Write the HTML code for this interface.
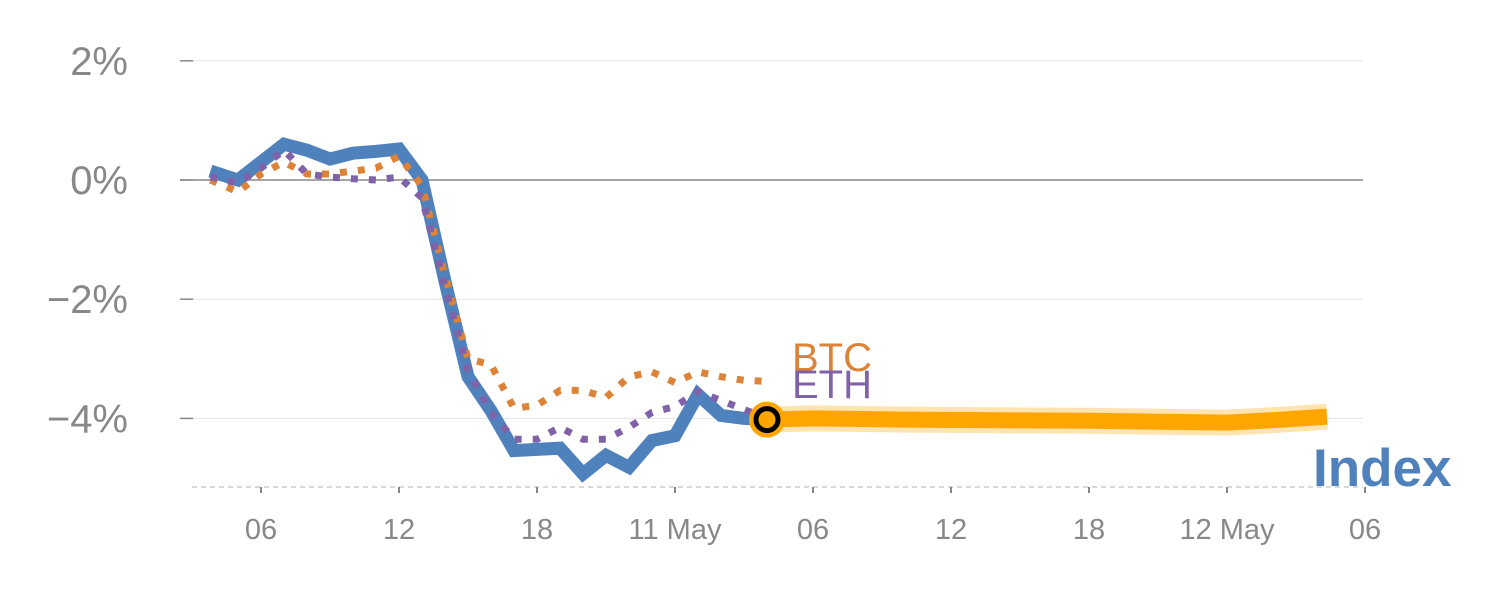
<!DOCTYPE html>
<html><head><meta charset="utf-8"><style>
html,body{margin:0;padding:0;background:#fff;}
svg{display:block;font-family:"Liberation Sans",sans-serif;}
</style></head><body>
<svg id="chart" width="1500" height="600" viewBox="0 0 1500 600" xmlns="http://www.w3.org/2000/svg">
<g id="grid"></g>
<g id="yaxis"></g>
<g id="xaxis"></g>
<g id="series"></g>
<text x="792" y="371" font-size="40" fill="#dd8338">BTC</text>
<text x="792" y="398" font-size="40" fill="#8062a8">ETH</text>
<text x="1313" y="486" font-size="53" font-weight="bold" fill="#4f81bd">Index</text>
</svg>
<script>
const yTicks = [2, 0, -2, -4];
const yTickLabels = ["2%", "0%", "\u22122%", "\u22124%"];
const xTicks = [6, 12, 18, 24, 30, 36, 42, 48, 54];
const xTickLabels = ["06", "12", "18", "11 May", "06", "12", "18", "12 May", "06"];
const hours = [3.8,5,6,7,8,9,10,11,12,13,14,15,16,17,18,19,20,21,22,23,24,25,26,27,28];
const indexValues = [0.15,0.0,0.3,0.6,0.5,0.35,0.45,0.48,0.52,0.0,-1.7,-3.3,-3.87,-4.54,-4.52,-4.5,-4.93,-4.62,-4.82,-4.37,-4.29,-3.6,-3.95,-4.0,-4.02];
const btcValues = [0.0,-0.2,0.1,0.3,0.1,0.1,0.15,0.2,0.4,-0.1,-1.6,-3.0,-3.1,-3.83,-3.78,-3.53,-3.53,-3.65,-3.3,-3.22,-3.4,-3.22,-3.3,-3.36,-3.38];
const ethValues = [0.05,-0.05,0.2,0.5,0.1,0.05,0.02,0.0,0.05,-0.3,-1.8,-3.2,-3.9,-4.35,-4.35,-4.15,-4.35,-4.35,-4.15,-3.9,-3.8,-3.55,-3.7,-3.85,-4.0];
const forecastHours = [28,30,34,38,42,46,48,50,52.35];
const forecastValues = [-4.02,-4.0,-4.02,-4.03,-4.04,-4.06,-4.07,-4.03,-3.97];

const X = h => 261 + (h - 6) * 23;
const Y = v => 180 - v * 59.6;
const NS = "http://www.w3.org/2000/svg";
function mk(tag, attrs, parent){const e=document.createElementNS(NS,tag);for(const k in attrs)e.setAttribute(k,attrs[k]);parent.appendChild(e);return e;}
const grid=document.getElementById('grid'), ya=document.getElementById('yaxis'), xa=document.getElementById('xaxis'), se=document.getElementById('series');

yTicks.forEach((v,i)=>{
  const g=mk('line',{x1:180,x2:1363,y1:Y(v),y2:Y(v),stroke:v===0?'#888':'#e3e3e3','stroke-width':v===0?1.5:1},grid);
  
  
  const t=mk('line',{x1:180,x2:193,y1:Y(v),y2:Y(v),stroke:'#888','stroke-width':1.5},ya);
  
  
  const l=mk('text',{x:128,y:Y(v)+14,'text-anchor':'end','font-size':40,fill:'#888'},ya);
  l.textContent=yTickLabels[i];
  
  
});
const base=mk('line',{x1:192,x2:1363,y1:487,y2:487,stroke:'#ccc','stroke-width':1.5,'stroke-dasharray':'5,4'},xa);


xTicks.forEach((h,i)=>{
  const t=mk('line',{x1:X(h),x2:X(h),y1:487,y2:493,stroke:'#888','stroke-width':2},xa);
  
  
  const l=mk('text',{x:X(h),y:539,'text-anchor':'middle','font-size':29,fill:'#888'},xa);
  l.textContent=xTickLabels[i];
  
  
});
const pts=(hs,vs)=>hs.map((h,i)=>X(h).toFixed(1)+','+Y(vs[i]).toFixed(1)).join(' ');
const fp=pts(forecastHours,forecastValues);
const f1=mk('polyline',{points:fp,fill:'none',stroke:'#ffa500','stroke-opacity':0.3,'stroke-width':26,'stroke-linejoin':'round'},se);


const f2=mk('polyline',{points:fp,fill:'none',stroke:'#ffa500','stroke-width':16,'stroke-linejoin':'round'},se);


const ix=mk('polyline',{points:pts(hours,indexValues),fill:'none',stroke:'#4f81bd','stroke-width':13,'stroke-linejoin':'miter'},se);


const bt=mk('polyline',{points:pts(hours,btcValues),fill:'none',stroke:'#dd8338','stroke-width':7,'stroke-dasharray':'7,11'},se);


const et=mk('polyline',{points:pts(hours,ethValues),fill:'none',stroke:'#8062a8','stroke-width':7,'stroke-dasharray':'7,11'},se);


const lh=hours[hours.length-1], lv=indexValues[indexValues.length-1];
const c1=mk('circle',{cx:X(lh),cy:Y(lv),r:18,fill:'#ffa500'},se);


const c2=mk('circle',{cx:X(lh),cy:Y(lv),r:11,fill:'none',stroke:'#000','stroke-width':5},se);


</script>
</body></html>
